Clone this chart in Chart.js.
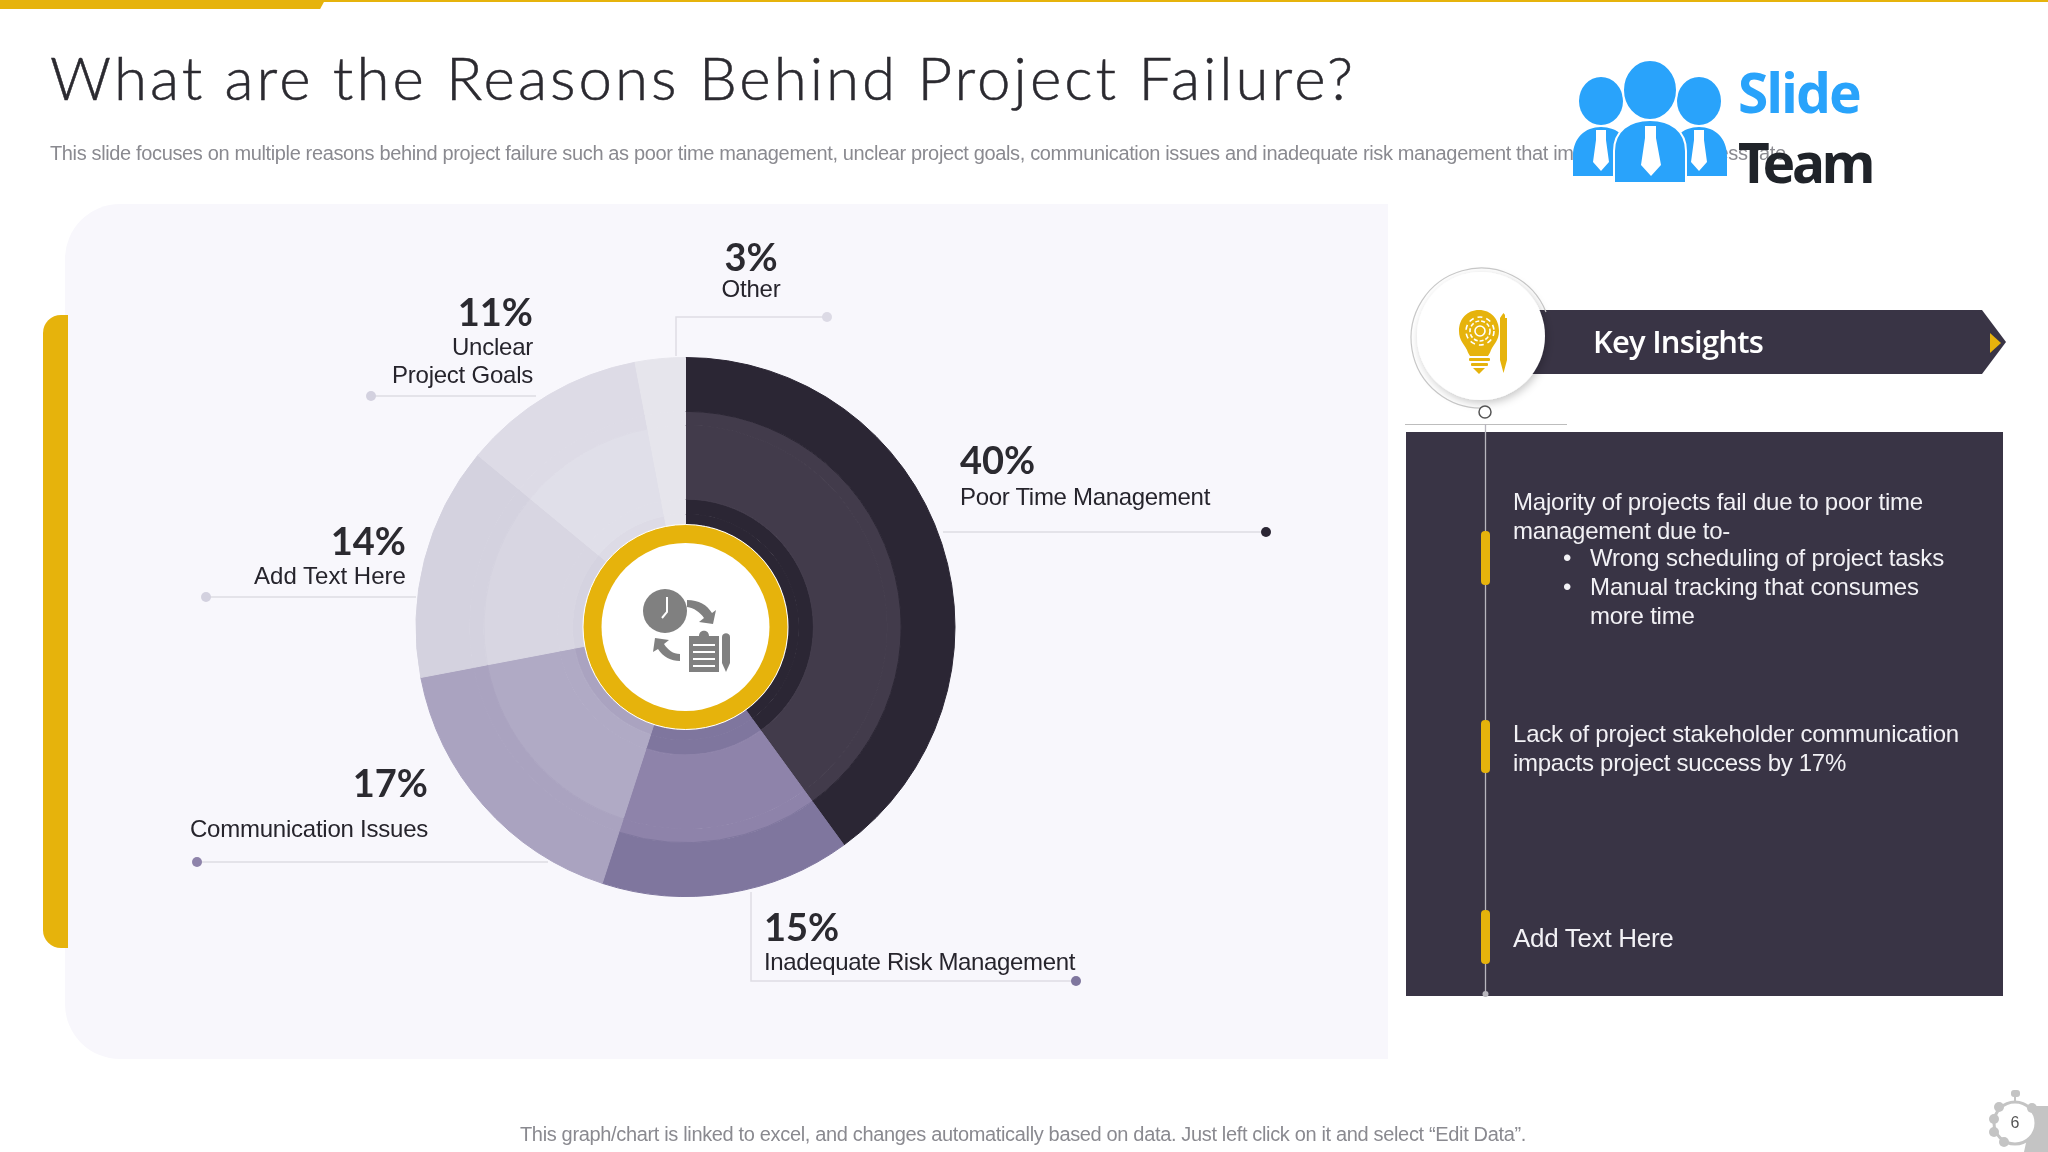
<!DOCTYPE html>
<html>
<head>
<meta charset="utf-8">
<title>Reasons Behind Project Failure</title>
<script src="https://cdn.jsdelivr.net/npm/chart.js@4/dist/chart.umd.min.js"></script>
<style>
  html, body { margin: 0; padding: 0; background: #fff; }
  #slide { position: relative; width: 2048px; height: 1152px; overflow: hidden; background: #fff; font-family: "Liberation Sans", Arial, sans-serif; }
  #slide > div, #slide > svg, #slide > canvas { position: absolute; }
  .txt { white-space: nowrap; line-height: 1; }
  #topBar { left: 0; top: 0; width: 325px; height: 9px; background: #e6b30c; clip-path: polygon(0 0, 100% 0, 98.5% 100%, 0 100%); }
  #topLine { left: 0; top: 0; width: 2048px; height: 2px; background: #e6b30c; }
  #accent { left: 43px; top: 315px; width: 25px; height: 633px; background: #e6b30c; border-radius: 18px 0 0 18px; }
  #panel { left: 65px; top: 204px; width: 1323px; height: 855px; background: #f8f7fc; border-radius: 55px 0 0 55px; }
  #darkPanel { left: 1406px; top: 432px; width: 597px; height: 564px; background: #393445; }
  #chart { left: 0; top: 0; }
</style>
</head>
<body>
<div id="slide">
  <div id="topLine"></div>
  <div id="topBar"></div>
  <div id="panel"></div>
  <div id="accent"></div>
  <div id="darkPanel"></div>
  <canvas id="chart" width="2048" height="1152"></canvas>

  <!-- clock and clipboard icon in the middle of the doughnut -->
  <svg style="left:630px;top:585px" width="110" height="90" viewBox="630 585 110 90" fill="#808080">
    <circle cx="665" cy="611" r="22"/>
    <path d="M667 597v15l-5 6" stroke="#fff" stroke-width="2" fill="none"/>
    <path d="M687 600c12 0 20 5 25 13l4-3-3 14-14-2 5-4c-4-6-10-10-17-11z"/>
    <path d="M680 661c-9 0-17-4-22-12l-5 3 2-14 14 2-5 4c4 6 9 10 16 10z"/>
    <path d="M689 636h10c0-7 10-7 10 0h10v36h-30z"/>
    <path d="M722 637c0-5 8-5 8 0v26l-4 9-4-9z"/>
    <path d="M693 645h22M693 652h22M693 659h22M693 666h22" stroke="#fff" stroke-width="2" fill="none"/>
  </svg>

  <!-- logo -->
  <svg style="left:1560px;top:50px" width="190" height="140" viewBox="1560 50 190 140" fill="#29a3fb">
    <ellipse cx="1601" cy="101" rx="22" ry="24"/>
    <ellipse cx="1699" cy="101" rx="22" ry="24"/>
    <path d="M1573 176v-20c0-18 12-29 28-29s30 11 30 29v20zM1670 176v-20c0-18 13-29 29-29s28 11 28 29v20z"/>
    <ellipse cx="1650" cy="90" rx="27" ry="30" stroke="#fff" stroke-width="2"/>
    <path d="M1614 183v-32c0-20 15-31 36-31s36 11 36 31v32z" stroke="#fff" stroke-width="2"/>
    <path d="M1596 130h10v10l3 22-8 9-8-9 3-22zM1694 130h10v10l3 22-8 9-8-9 3-22zM1645 126h11v12l5 27-10 11-10-11 4-27z" fill="#fff"/>
  </svg>

  <!-- banner and timeline on the right -->
  <svg style="left:1400px;top:260px" width="648" height="745" viewBox="1400 260 648 745">
    <defs><filter id="soft" x="-30%" y="-30%" width="160%" height="160%"><feDropShadow dx="2" dy="3" stdDeviation="4" flood-color="#000" flood-opacity="0.22"/></filter></defs>
    <path d="M1520 310H1982L2006 342 1982 374H1520z" fill="#393445"/>
    <path d="M1990 333l11 10-11 10z" fill="#e6b30c"/>
    <path d="M1485 408A70 70 0 1 1 1546 312" fill="none" stroke="#c9c9c9" stroke-width="1.2"/>
    <circle cx="1481" cy="336" r="64" fill="#fff" filter="url(#soft)"/>
    <circle cx="1485" cy="412" r="6" fill="#fff" stroke="#555" stroke-width="1.5"/>
    <path d="M1405 424.5H1567" stroke="#bdbdbd" stroke-width="1"/>
    <path d="M1485.5 424V994" stroke="#b8b6be" stroke-width="1.3"/>
    <circle cx="1485.5" cy="994" r="3" fill="#b8b6be"/>
    <rect x="1481" y="531" width="9" height="54" rx="4" fill="#e6b30c"/>
    <rect x="1481" y="720" width="9" height="53" rx="4" fill="#e6b30c"/>
    <rect x="1481" y="910" width="9" height="54" rx="4" fill="#e6b30c"/>
    <!-- bulb with gear and pen -->
    <g fill="#e6b30c">
      <path d="M1479 310c-12 0-20 9-20 21 0 9 5 13 8 19 1 3 2 4 3 6h18c1-2 2-3 3-6 3-6 8-10 8-19 0-12-8-21-20-21z"/>
      <rect x="1469" y="358" width="21" height="3" rx="1"/>
      <rect x="1471" y="363" width="17" height="3" rx="1"/>
      <path d="M1473 368h12l-6 6z"/>
      <path d="M1502 315l1.500-2 1.500 2v3h2v42l-3.500 13-3.500-13v-42z"/>
    </g>
    <g fill="none" stroke="#fff" stroke-width="1.6">
      <circle cx="1480" cy="331" r="5"/>
      <circle cx="1480" cy="331" r="10" stroke-dasharray="4 2"/>
      <circle cx="1480" cy="331" r="14" stroke-dasharray="5 4"/>
    </g>
  </svg>

  <!-- page number gear -->
  <svg style="left:1980px;top:1080px" width="68" height="72" viewBox="1980 1080 68 72" fill="#c4c4c4">
    <path d="M2034 1106h14v46h-24z"/>
    <circle cx="2015" cy="1123" r="21" fill="#fff" stroke="#c4c4c4" stroke-width="3"/>
    <rect x="2011" y="1090" width="9" height="7" rx="3"/><rect x="2014" y="1096" width="2" height="6"/>
    <circle cx="1999" cy="1107" r="5"/><circle cx="1994" cy="1119" r="5"/><circle cx="1994" cy="1132" r="5"/><circle cx="2004" cy="1142" r="5"/><circle cx="2032" cy="1108" r="5"/>
  </svg>
</div>

<script>
// chart data
const reasonLabels = ['Poor Time Management', 'Inadequate Risk Management', 'Communication Issues', 'Add Text Here', ['Unclear', 'Project Goals'], 'Other'];
const reasonShares = [40, 15, 17, 14, 11, 3];

// the doughnut is shaded in bands, outermost band first
const ringBandColors = [
    ['#2b2634', '#7f769e', '#aaa3c0', '#d4d2df', '#dddbe6', '#e6e5ec'],
    ['#423b4b', '#8e83aa', '#aaa3c0', '#d4d2df', '#dddbe6', '#e6e5ec'],
    ['#423b4b', '#8e83aa', '#b0aac5', '#d8d6e2', '#e0dfe9', '#e6e5ec'],
    ['#2b2634', '#7f769e', '#b0aac5', '#d8d6e2', '#e0dfe9', '#e6e5ec'],
    ['#2b2634', '#7f769e', '#aaa3c0', '#d5d3e0', '#dddbe6', '#e6e5ec']
];
const ringBandWeights = [54, 14, 74, 15, 10];
const dotColors = ['#2b2634', '#7f769e', '#8e83aa', '#d3d1df', '#d3d1df', '#dcdae5'];

// where each callout sits, same order as reasonLabels
const calloutLayout = [
    { align: 'left', x: 960, pctY: 459, lineY: [497], widths: [250], leader: [[943, 532], [1266, 532]] },
    { align: 'left', x: 764, pctY: 926, lineY: [961.500], widths: [311], leader: [[751, 892], [751, 981], [1076, 981]] },
    { align: 'right', x: 428, pctY: 782, lineY: [828.500], widths: [238], leader: [[548, 862], [197, 862]] },
    { align: 'right', x: 406, pctY: 540, lineY: [576], widths: [152], leader: [[416, 597], [206, 597]] },
    { align: 'right', x: 533, pctY: 311, lineY: [346.500, 375], widths: [81, 141], leader: [[536, 396], [371, 396]] },
    { align: 'center', x: 751, pctY: 256, lineY: [289], widths: [59], leader: [[676, 356], [676, 317], [827, 317]] }
];

const slide = document.getElementById('slide');

// absolutely placed text line, y is the vertical middle of the line
function addText(text, x, y, size, color, opts) {
    opts = opts || {};
    const el = document.createElement('div');
    el.className = 'txt';
    el.textContent = text;
    el.style.top = (y - size / 2) + 'px';
    el.style.fontSize = size + 'px';
    el.style.color = color;
    el.style.zIndex = opts.z || 3;
    if (opts.font) el.style.fontFamily = opts.font;
    if (opts.weight) el.style.fontWeight = opts.weight;
    slide.appendChild(el);
    // stretch the letter spacing to hit the measured width
    if (opts.width) {
        const natural = el.getBoundingClientRect().width;
        el.style.letterSpacing = ((opts.width - natural) / text.length) + 'px';
    }
    const w = el.getBoundingClientRect().width;
    if (opts.align === 'right') el.style.left = (x - w) + 'px';
    else if (opts.align === 'center') el.style.left = (x - w / 2) + 'px';
    else el.style.left = x + 'px';
    return el;
}

const titleEl = addText('What are the Reasons Behind Project Failure?', 50, 76.500, 60, '#2b2a30', { font: 'Lato', weight: 300, width: 1306 });
titleEl.style.webkitTextStroke = '0.5px #2b2a30';
addText('This slide focuses on multiple reasons behind project failure such as poor time management, unclear project goals, communication issues and inadequate risk management that impact project success rate.', 50, 153, 20, '#8a8a90', { width: 1741, z: 1 });
addText('Slide', 1738, 91.500, 55, '#29a3fb', { font: 'Noto Sans', weight: 700, width: 122 });
addText('Team', 1738, 161.500, 55, '#1f2329', { font: 'Noto Sans', weight: 700, width: 134 });
addText('Key Insights', 1593, 341, 31, '#fff', { font: 'Open Sans', weight: 600, width: 170 });
addText('This graph/chart is linked to excel, and changes automatically based on data. Just left click on it and select “Edit Data”.', 520, 1134, 20, '#8a8a90', { width: 1006 });
addText('6', 2015, 1123, 16, '#555', { align: 'center' });

// insight lines on the dark panel
addText('Majority of projects fail due to poor time', 1513, 502, 24, '#f2f1f5', { width: 410 });
addText('management due to-', 1513, 530.500, 24, '#f2f1f5', { width: 217 });
addText('•', 1563, 558, 24, '#f2f1f5');
addText('Wrong scheduling of project tasks', 1590, 558, 24, '#f2f1f5', { width: 354 });
addText('•', 1563, 587, 24, '#f2f1f5');
addText('Manual tracking that consumes', 1590, 587, 24, '#f2f1f5', { width: 329 });
addText('more time', 1590, 615.500, 24, '#f2f1f5', { width: 104.500 });
addText('Lack of project stakeholder communication', 1513, 734, 24, '#f2f1f5', { width: 446 });
addText('impacts project success by 17%', 1513, 763, 24, '#f2f1f5', { width: 333 });
addText('Add Text Here', 1513, 938, 26, '#f2f1f5', { width: 160.500 });

// callouts built from the category and value arrays
reasonLabels.forEach(function(label, i) {
    const pos = calloutLayout[i];
    addText(reasonShares[i] + '%', pos.x, pos.pctY, 38, '#2b2a30', { font: 'Lato', weight: 700, align: pos.align });
    [].concat(label).forEach(function(line, j) {
        addText(line, pos.x, pos.lineY[j], 24, '#26242c', { align: pos.align, width: pos.widths[j] });
    });
});

// leader lines, dots and the gold hub
const calloutPlugin = {
    id: 'callouts',
    beforeDatasetsDraw: function(chart) {
        const ctx = chart.ctx;
        ctx.save();
        calloutLayout.forEach(function(pos, i) {
            ctx.strokeStyle = '#dedde3';
            ctx.lineWidth = 1.5;
            ctx.beginPath();
            pos.leader.forEach(function(p, j) {
                if (j === 0) ctx.moveTo(p[0], p[1]);
                else ctx.lineTo(p[0], p[1]);
            });
            ctx.stroke();
            const end = pos.leader[pos.leader.length - 1];
            ctx.fillStyle = dotColors[i];
            ctx.beginPath();
            ctx.arc(end[0], end[1], 5, 0, Math.PI * 2);
            ctx.fill();
        });
        ctx.restore();
    },
    afterDatasetsDraw: function(chart) {
        const ctx = chart.ctx;
        const arc = chart.getDatasetMeta(0).data[0];
        ctx.save();
        ctx.beginPath();
        ctx.arc(arc.x, arc.y, 102.500, 0, Math.PI * 2);
        ctx.fillStyle = '#e6b30c';
        ctx.fill();
        ctx.strokeStyle = '#fff';
        ctx.lineWidth = 1;
        ctx.stroke();
        ctx.beginPath();
        ctx.arc(arc.x, arc.y, 84, 0, Math.PI * 2);
        ctx.fillStyle = '#fff';
        ctx.fill();
        ctx.restore();
    }
};

new Chart(document.getElementById('chart').getContext('2d'), {
    type: 'doughnut',
    data: {
        labels: reasonLabels,
        // same border colour as the fill hides the seams between bands
        datasets: ringBandColors.map(function(colors, i) {
            return {
                data: reasonShares,
                backgroundColor: colors,
                borderColor: colors,
                borderWidth: 1,
                weight: ringBandWeights[i]
            };
        })
    },
    options: {
        responsive: false,
        devicePixelRatio: 1,
        animation: false,
        cutout: 103,
        layout: {
            padding: { left: 415, right: 1092, top: 357, bottom: 255 }
        },
        plugins: {
            legend: { display: false },
            tooltip: { enabled: false }
        }
    },
    plugins: [calloutPlugin]
});

// icons sit above the canvas
document.querySelectorAll('#slide > svg').forEach(function(el) { el.style.zIndex = 2; });
</script>
</body>
</html>
